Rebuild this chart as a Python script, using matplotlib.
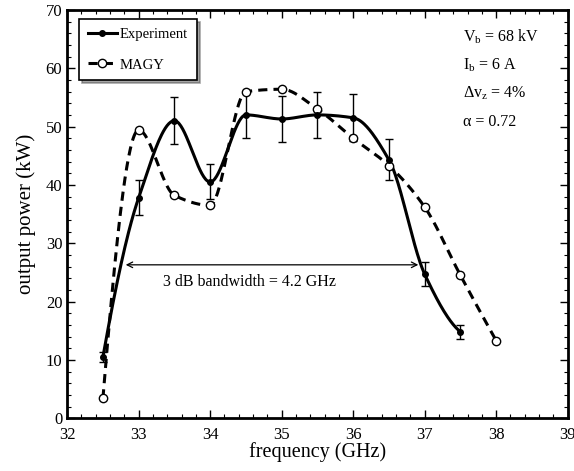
import matplotlib.pyplot as plt
import numpy as np
from matplotlib.ticker import MultipleLocator

plt.rcParams['font.family'] = ['Liberation Serif', 'DejaVu Serif']
plt.rcParams['mathtext.fontset'] = 'custom'
plt.rcParams['mathtext.rm'] = 'Liberation Serif'
plt.rcParams['mathtext.it'] = 'Liberation Serif:italic'

# data
exp_freq = [32.5, 33.0, 33.5, 34.0, 34.5, 35.0, 35.5, 36.0, 36.5, 37.0, 37.5]
exp_power = [10.5, 37.8, 51.0, 40.5, 52.0, 51.3, 52.0, 51.5, 44.3, 24.7, 14.8]
exp_err = [0.8, 3.0, 4.0, 3.0, 4.0, 4.0, 4.0, 4.0, 3.5, 2.0, 1.2]

magy_freq = [32.5, 33.0, 33.5, 34.0, 34.5, 35.0, 35.5, 36.0, 36.5, 37.0, 37.5, 38.0]
magy_power = [3.4, 49.4, 38.2, 36.5, 56.0, 56.4, 53.0, 48.0, 43.3, 36.2, 24.5, 13.3]

bw_start, bw_end, bw_level = 32.78, 36.95, 26.3
bw_label = "3 dB bandwidth = 4.2 GHz"
params = [r"V$_{\rm b}$ = 68 kV", r"I$_{\rm b}$ = 6 A",
          r"Δv$_{\rm z}$ = 4%", r"α = 0.72"]


def smooth(x, y, n=40):
    # shape-preserving cubic (pchip) through the points
    x = np.asarray(x, float)
    y = np.asarray(y, float)
    h = np.diff(x)
    dl = np.diff(y) / h
    d = np.zeros_like(y)
    for k in range(1, len(x) - 1):
        if dl[k - 1] * dl[k] > 0:
            w1 = 2 * h[k] + h[k - 1]
            w2 = h[k] + 2 * h[k - 1]
            d[k] = (w1 + w2) / (w1 / dl[k - 1] + w2 / dl[k])
    for e, (h0, h1, d0, d1) in ((0, (h[0], h[1], dl[0], dl[1])),
                                (-1, (h[-1], h[-2], dl[-1], dl[-2]))):
        m = ((2 * h0 + h1) * d0 - h0 * d1) / (h0 + h1)
        if np.sign(m) != np.sign(d0):
            m = 0
        elif np.sign(d0) != np.sign(d1) and abs(m) > 3 * abs(d0):
            m = 3 * d0
        d[e] = m
    xs, ys = [], []
    t = np.linspace(0, 1, n)
    for k in range(len(x) - 1):
        h00 = 2 * t ** 3 - 3 * t ** 2 + 1
        h10 = t ** 3 - 2 * t ** 2 + t
        h01 = -2 * t ** 3 + 3 * t ** 2
        h11 = t ** 3 - t ** 2
        xs.append(x[k] + t * h[k])
        ys.append(h00 * y[k] + h10 * h[k] * d[k] + h01 * y[k + 1] + h11 * h[k] * d[k + 1])
    return np.concatenate(xs), np.concatenate(ys)


fig = plt.figure(figsize=(5.74, 4.71), dpi=100)
ax = fig.add_axes([0.117, 0.112, 0.872, 0.867])

sx, sy = smooth(exp_freq, exp_power)
ax.plot(sx, sy, color='black', lw=2.2)
ax.errorbar(exp_freq, exp_power, yerr=exp_err, fmt='o', color='black', ms=4,
            ecolor='black', elinewidth=1, capsize=3, capthick=1)

mx, my = smooth(magy_freq, magy_power)
ax.plot(mx, my, color='black', lw=2.2, ls=(0, (3, 2)))
ax.plot(magy_freq, magy_power, 'o', mfc='white', mec='black', ms=6, mew=1)

# legend handles
ax.plot([], [], color='black', lw=2.2, marker='o', ms=4, label='Experiment')
ax.plot([], [], color='black', lw=2.2, ls=(0, (3, 2)), marker='o', mfc='white',
        mec='black', ms=6, label='MAGY')
handles, labels = ax.get_legend_handles_labels()
leg = ax.legend(handles[-2:], labels[-2:], loc='upper left', bbox_to_anchor=(0.018, 0.985),
                fancybox=False, shadow=True, edgecolor='black', framealpha=1,
                fontsize=10.5, handlelength=2.0, handletextpad=0.2, labelspacing=1.2,
                borderpad=0.6, borderaxespad=0.2)
leg.get_frame().set_linewidth(1.2)

ax.annotate('', xy=(bw_start, bw_level), xytext=(bw_end, bw_level),
            arrowprops=dict(arrowstyle='<->', color='black', lw=0.9))
ax.text(34.55, 23.3, bw_label, ha='center', va='center', fontsize=11.5)

for i, s in enumerate(params):
    ax.text(0.79, 0.935 - i * 0.07, s, transform=ax.transAxes, fontsize=11.5, va='center')

ax.set_xlim(32, 39)
ax.set_ylim(0, 70)
ax.xaxis.set_major_locator(MultipleLocator(1))
ax.xaxis.set_minor_locator(MultipleLocator(0.2))
ax.yaxis.set_major_locator(MultipleLocator(10))
ax.yaxis.set_minor_locator(MultipleLocator(2))
ax.tick_params(which='both', direction='in', top=True, right=True, labelsize=12)
ax.tick_params(which='major', length=6, width=1)
ax.tick_params(which='minor', length=3, width=0.8)
ax.tick_params(axis='x', pad=6)
for sp in ax.spines.values():
    sp.set_linewidth(2)

ax.set_xlabel('frequency (GHz)', fontsize=14.5, labelpad=0)
ax.set_ylabel('output power (kW)', fontsize=15, labelpad=7)

fig.savefig('out.png', dpi=100)
